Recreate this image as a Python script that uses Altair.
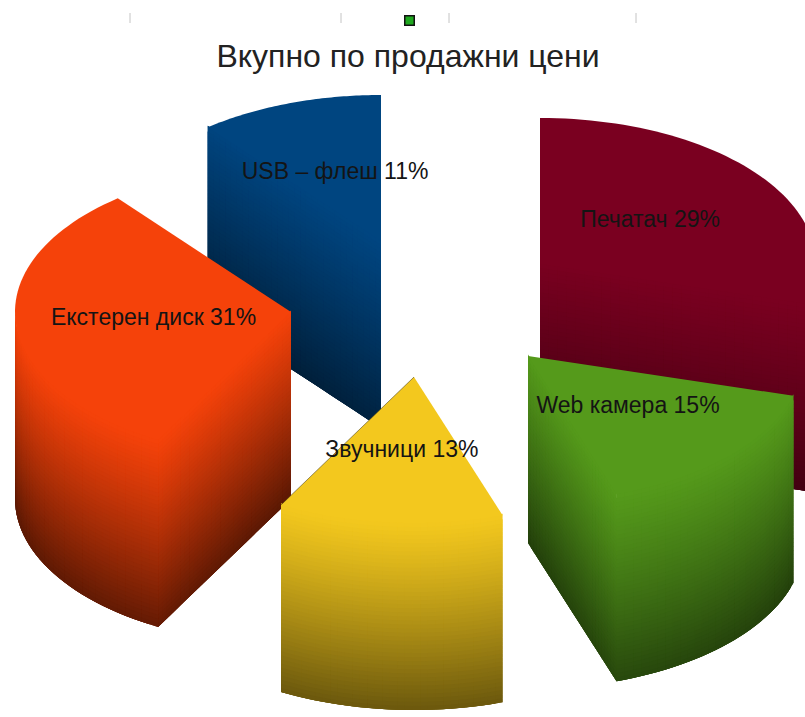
import math
import altair as alt

# Pie contents: shares in percent, shown rounded on the labels
names = ["Печатач", "Web камера", "Звучници", "Екстерен диск", "USB – флеш"]
percents = [29.4, 15.4, 13.2, 31.2, 10.8]
title_text = "Вкупно по продажни цени"

# Colours of the top faces and how far each fades towards the base of its walls
top_colours = [(122, 0, 32), (85, 154, 27), (243, 200, 30), (245, 66, 10), (0, 69, 128)]
base_fade = [0.45, 0.53, 0.56, 0.59, 0.50]
end_fade = [0.08, 0.06, 0.0, 0.05, 0.10]

# Projected pie: ellipse radii, extrusion depth and where each pulled-out slice has its tip
RX, RY, DEPTH = 276, 146, 187
slice_tips = [(540, 264), (528, 356), (414, 377), (291, 312), (381, 241)]
draw_order = [4, 0, 3, 1, 2]

WIDTH, HEIGHT = 805, 717
N_ALONG, N_DOWN = 30, 46


def project(tip, angle, radius):
    a = math.radians(angle)
    return tip[0] + radius * RX * math.sin(a), tip[1] - radius * RY * math.cos(a)


def shade(colour, fade, extra, t, s):
    b = 1 - fade * t ** 1.15 - extra * s * t ** 0.5
    return "#%02x%02x%02x" % tuple(max(0, min(255, round(c * b))) for c in colour)


def polygon(points, colour):
    ring = [[float(x), float(y)] for x, y in points]
    ring.append(ring[0])
    return {
        "type": "Feature",
        "geometry": {"type": "Polygon", "coordinates": [ring]},
        "properties": {"c": colour},
    }


def wall(tip, colour, fade, extra, edge, s_of):
    """Shaded quads hanging DEPTH below a top-face edge given as (angle, radius) pairs.

    Each quad reaches into the next row and column, and later quads paint over
    that overlap, so no hairline seams show between neighbours. The first row
    also starts a little above the edge, tucked under the top face.
    """
    cells = []
    last = len(edge) - 1
    for i in range(last):
        x0, y0 = project(tip, *edge[i])
        x1, y1 = project(tip, *edge[min(i + 2, last)])
        s = s_of((i + 0.5) / last)
        for j in range(N_DOWN):
            d0 = DEPTH * j / N_DOWN if j else -1.5
            d1 = DEPTH * min(j + 2, N_DOWN) / N_DOWN
            c = shade(colour, fade, extra, (j + 0.5) / N_DOWN, s)
            cells.append(polygon([(x0, y0 + d0), (x1, y1 + d0), (x1, y1 + d1), (x0, y0 + d1)], c))
    return cells


# Cumulative sector boundaries, clockwise from twelve o'clock
total = sum(percents)
bounds = [0.0]
for p in percents:
    bounds.append(bounds[-1] + 360.0 * p / total)

features = []
label_rows = []
edge_rows = []

for k in draw_order:
    a0, a1 = bounds[k], bounds[k + 1]
    tip, col, fade, extra = slice_tips[k], top_colours[k], base_fade[k], end_fade[k]

    # Straight wall along the leading radius, when it faces the viewer
    if 180 < a0 < 360:
        edge = [(a0, n / N_ALONG) for n in range(N_ALONG + 1)]
        fn = (lambda u: u) if k == 4 else (lambda u: 1 - u)
        features += wall(tip, col, fade, extra, edge, fn)
    # Straight wall along the trailing radius
    if 0 < a1 < 180:
        edge = [(a1, n / N_ALONG) for n in range(N_ALONG + 1)]
        features += wall(tip, col, fade, extra, edge, lambda u: 1 - u)
    # Curved rim on the near half of the ellipse
    lo, hi = max(a0, 90.0), min(a1, 270.0)
    if lo < hi:
        edge = [(lo + (hi - lo) * n / N_ALONG, 1.0) for n in range(N_ALONG + 1)]
        if k == 0:
            fn = lambda u: 1.0
        elif k == 2:
            fn = lambda u: 0.0
        elif k == 3:
            fn = lambda u: u
        else:
            fn = lambda u: 1 - u
        features += wall(tip, col, fade, extra, edge, fn)

    # Flat top face
    arc = [project(tip, a0 + (a1 - a0) * n / 60, 1.0) for n in range(61)]
    features.append(polygon([tip] + arc, "#%02x%02x%02x" % col))

    mid_x, mid_y = project(tip, (a0 + a1) / 2, 0.5)
    label_rows.append({"x": mid_x, "y": mid_y, "text": f"{names[k]} {round(percents[k])}%"})

# Thin dark edge on the left side of the yellow slice's top face
yx, yy = project(slice_tips[2], bounds[3], 1.0)
edge_rows.append({"x": slice_tips[2][0], "y": slice_tips[2][1], "x2": yx, "y2": yy})

x_scale = alt.Scale(domain=[0, WIDTH], range=[0, WIDTH])
y_scale = alt.Scale(domain=[0, HEIGHT], range=[0, HEIGHT])
x_enc = dict(scale=x_scale, axis=None)
y_enc = dict(scale=y_scale, axis=None)

slices = (
    alt.Chart(alt.Data(values=features))
    .mark_geoshape(strokeWidth=0, clip=True)
    .encode(fill=alt.Fill("properties.c:N", scale=None, legend=None))
    .project(type="identity", scale=1, translate=[0, 0])
)

yellow_edge = (
    alt.Chart(alt.Data(values=edge_rows))
    .mark_rule(color="#4a3d10", strokeWidth=0.8, opacity=0.7)
    .encode(alt.X("x:Q", **x_enc), alt.Y("y:Q", **y_enc), alt.X2("x2:Q"), alt.Y2("y2:Q"))
)

labels = (
    alt.Chart(alt.Data(values=label_rows))
    .mark_text(font="Liberation Sans", fontSize=23, color="#141414", align="center", baseline="middle")
    .encode(alt.X("x:Q", **x_enc), alt.Y("y:Q", **y_enc), text="text:N")
)

heading = (
    alt.Chart(alt.Data(values=[{"x": 408, "y": 57, "text": title_text}]))
    .mark_text(font="Liberation Sans", fontSize=32, color="#222222", align="center", baseline="middle")
    .encode(alt.X("x:Q", **x_enc), alt.Y("y:Q", **y_enc), text="text:N")
)

# Selection handles along the top of the frame
handle_xs = [130, 341, 449, 636]
ticks = (
    alt.Chart(alt.Data(values=[{"x": x, "y0": 13, "y1": 23} for x in handle_xs]))
    .mark_rule(color="#c4c4c4", strokeWidth=1)
    .encode(alt.X("x:Q", **x_enc), alt.Y("y0:Q", **y_enc), alt.Y2("y1:Q"))
)
handle = (
    alt.Chart(alt.Data(values=[{"x": 409.5, "y": 20.5}]))
    .mark_point(shape="square", filled=True, size=90, fill="#1fa81f", stroke="#111111", strokeWidth=1.5, opacity=1)
    .encode(alt.X("x:Q", **x_enc), alt.Y("y:Q", **y_enc))
)

chart = (
    alt.layer(slices, yellow_edge, labels, heading, ticks, handle)
    .properties(width=WIDTH, height=HEIGHT, padding=0, autosize=alt.AutoSizeParams(type="none"), background="white")
    .configure_view(stroke=None)
)

chart.save("out.html", embed_options={"renderer": "svg", "actions": False})
